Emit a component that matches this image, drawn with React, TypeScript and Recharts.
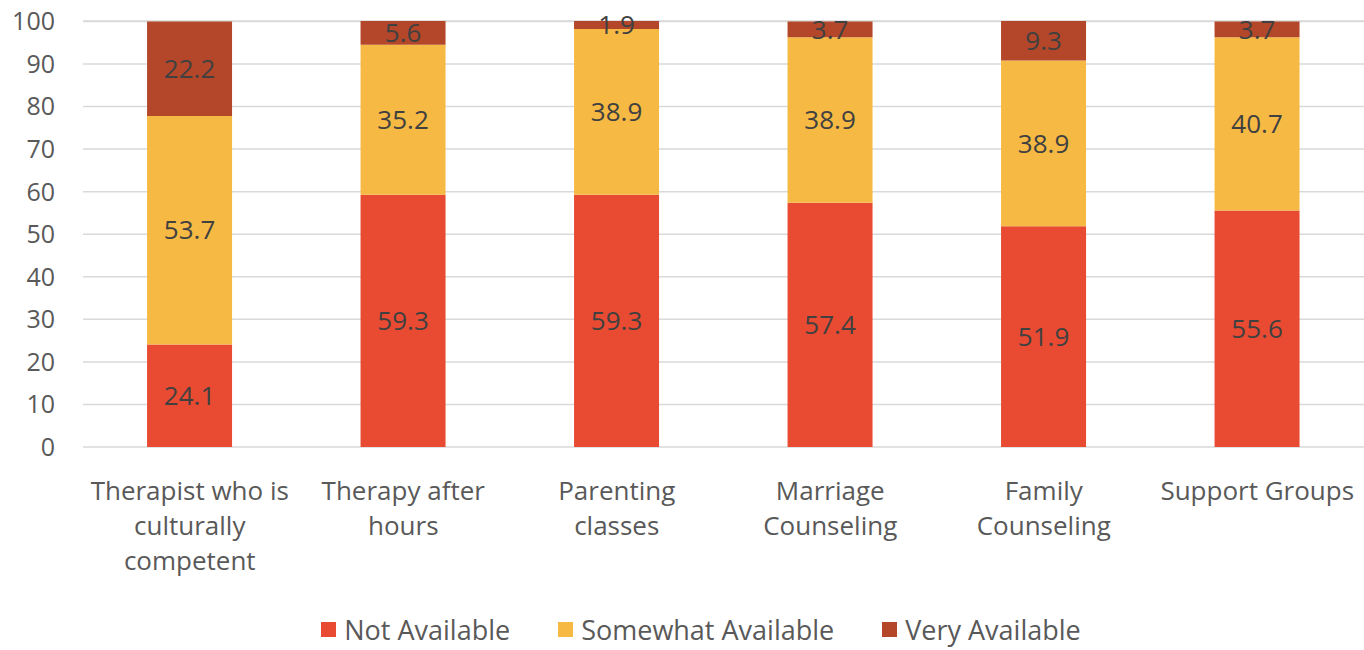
import { BarChart, Bar, XAxis, YAxis, CartesianGrid, Legend, LabelList } from 'recharts'

const categories = [
  'Therapist who is culturally competent',
  'Therapy after hours',
  'Parenting classes',
  'Marriage Counseling',
  'Family Counseling',
  'Support Groups',
]

// how each category label wraps under the axis
const tickLines = [
  ['Therapist who is', 'culturally', 'competent'],
  ['Therapy after', 'hours'],
  ['Parenting', 'classes'],
  ['Marriage', 'Counseling'],
  ['Family', 'Counseling'],
  ['Support Groups'],
]

const notAvailable = [24.1, 59.3, 59.3, 57.4, 51.9, 55.6]
const somewhatAvailable = [53.7, 35.2, 38.9, 38.9, 38.9, 40.7]
const veryAvailable = [22.2, 5.6, 1.9, 3.7, 9.3, 3.7]

const yTicks = [0, 10, 20, 30, 40, 50, 60, 70, 80, 90, 100]

const data = categories.map((name, i) => ({
  name,
  notAvailable: notAvailable[i],
  somewhatAvailable: somewhatAvailable[i],
  veryAvailable: veryAvailable[i],
}))

const FONT = '"Open Sans", sans-serif'

const series = [
  { key: 'notAvailable', label: 'Not Available', color: '#E94B32' },
  { key: 'somewhatAvailable', label: 'Somewhat Available', color: '#F6B944' },
  { key: 'veryAvailable', label: 'Very Available', color: '#B4472A' },
]

const CategoryTick = (props: any) => {
  const { x, y, index } = props
  const lines = tickLines[index] || []
  return (
    <g transform={`translate(${x},${y})`}>
      {lines.map((line, i) => (
        <text
          key={i}
          x={0}
          y={35 + i * 35}
          textAnchor="middle"
          dominantBaseline="central"
          fill="#595959"
          fontSize={26}
          fontFamily={FONT}
        >
          {line}
        </text>
      ))}
    </g>
  )
}

const LegendContent = () => (
  <div
    style={{
      display: 'flex',
      justifyContent: 'center',
      alignItems: 'center',
      height: 60,
      paddingTop: 18,
      paddingLeft: 38,
      boxSizing: 'border-box',
      fontFamily: FONT,
      fontSize: 27,
      color: '#595959',
    }}
  >
    {series.map((s) => (
      <div key={s.key} style={{ display: 'flex', alignItems: 'center', margin: '0 24px' }}>
        <span style={{ width: 15, height: 15, background: s.color, marginRight: 8, display: 'inline-block' }} />
        <span>{s.label}</span>
      </div>
    ))}
  </div>
)

export default function App() {
  return (
    <div style={{ position: 'absolute', left: 0, top: 0, background: '#fff' }}>
      <BarChart
        width={1364}
        height={650}
        data={data}
        margin={{ top: 21, right: 0, left: 0, bottom: 0 }}
        barCategoryGap="30%"
      >
        <CartesianGrid vertical={false} stroke="#D9D9D9" strokeWidth={1.5} />
        <XAxis
          dataKey="name"
          axisLine={false}
          tickLine={false}
          interval={0}
          height={143}
          tick={<CategoryTick />}
        />
        <YAxis
          domain={[0, 100]}
          ticks={yTicks}
          width={83}
          axisLine={false}
          tickLine={false}
          tickMargin={22}
          tick={{ fill: '#595959', fontSize: 25, fontFamily: FONT }}
        />
        <Legend verticalAlign="bottom" height={60} content={<LegendContent />} />
        {series.map((s) => (
          <Bar key={s.key} dataKey={s.key} stackId="a" fill={s.color} isAnimationActive={false}>
            <LabelList
              dataKey={s.key}
              position="center"
              fill="#404040"
              fontSize={26}
              fontFamily={FONT}
              formatter={(v: any) => Number(v).toFixed(1)}
            />
          </Bar>
        ))}
      </BarChart>
    </div>
  )
}
